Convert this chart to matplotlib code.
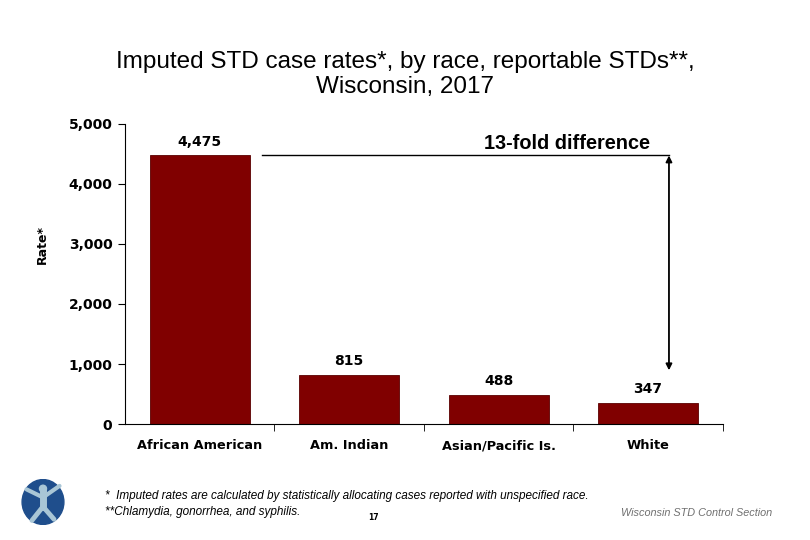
import matplotlib.pyplot as plt
from matplotlib.patches import Ellipse

races = ["African American", "Am. Indian", "Asian/Pacific Is.", "White"]
rates = [4475, 815, 488, 347]
rate_labels = ["4,475", "815", "488", "347"]
y_ticks = [0, 1000, 2000, 3000, 4000, 5000]
y_tick_labels = ["0", "1,000", "2,000", "3,000", "4,000", "5,000"]

bar_color = "#800000"

fig = plt.figure(figsize=(8.1, 5.4), dpi=100)
ax = fig.add_axes([0.1543, 0.2148, 0.738, 0.5556])

x = range(len(races))
ax.bar(x, rates, width=0.67, color=bar_color, edgecolor="#5a0000", linewidth=0.6)

ax.set_xlim(-0.5, 3.5)
ax.set_ylim(0, 5000)
ax.set_yticks(y_ticks)
ax.set_yticklabels(y_tick_labels, fontsize=10, fontweight="bold", family="DejaVu Sans")
ax.set_xticks(list(x))
ax.set_xticklabels(races, fontsize=9.3, fontweight="bold", family="DejaVu Sans")
ax.tick_params(axis="x", length=0, pad=11)
ax.set_xticks([0.5, 1.5, 2.5, 3.5], minor=True)
ax.tick_params(axis="x", which="minor", length=5, direction="out")
ax.tick_params(axis="y", length=5, direction="out", pad=4)
for s in ["top", "right"]:
    ax.spines[s].set_visible(False)

fig.text(42 / 810, 1 - 244 / 540, "Rate*", rotation=90, ha="center", va="center",
         fontsize=9, fontweight="bold", family="DejaVu Sans")

# value labels
for i, (v, lab) in enumerate(zip(rates, rate_labels)):
    ax.annotate(lab, (i, v), xytext=(0, 10), textcoords="offset points",
                ha="center", va="center", fontsize=10, fontweight="bold",
                family="DejaVu Sans")

# 13-fold difference annotation
ax.plot([0.416, 3.14], [rates[0], rates[0]], color="black", lw=1)
ax.annotate("", xy=(3.14, rates[0] * 0.2), xytext=(3.14, rates[0]),
            arrowprops=dict(arrowstyle="<|-|>", color="black", lw=1.3,
                            mutation_scale=9, shrinkA=0, shrinkB=0))
ax.text(2.46, 4680, "13-fold difference", ha="center", va="center",
        fontsize=14.3, fontweight="bold", family="Liberation Sans")

fig.text(0.5, 1 - 74.5 / 540, "Imputed STD case rates*, by race, reportable STDs**,\nWisconsin, 2017",
         ha="center", va="center", fontsize=17.5, family="Liberation Sans",
         linespacing=1.18)

# footer
fig.text(105 / 810, 1 - 496 / 540,
         "*  Imputed rates are calculated by statistically allocating cases reported with unspecified race.",
         ha="left", va="center", fontsize=8.5, style="italic", family="Liberation Sans")
fig.text(105 / 810, 1 - 512 / 540, "**Chlamydia, gonorrhea, and syphilis.",
         ha="left", va="center", fontsize=8.5, style="italic", family="Liberation Sans")
fig.text(373 / 810, 1 - 518 / 540, "17", ha="center", va="center", fontsize=5.5,
         fontweight="bold", family="DejaVu Sans")
fig.text(772 / 810, 1 - 513 / 540, "Wisconsin STD Control Section", ha="right",
         va="center", fontsize=7.8, style="italic", color="#707070",
         family="Liberation Sans")

# logo
lax = fig.add_axes([21 / 810, 1 - 525 / 540, 44 / 810, 46 / 540])
lax.set_xlim(-1, 1)
lax.set_ylim(-1, 1)
lax.axis("off")
lax.add_patch(Ellipse((0, 0), 1.9, 1.95, color="#1f4e8c"))
figc = "#a9c6d6"
lax.add_patch(Ellipse((0, 0.58), 0.32, 0.3, color=figc))
lax.plot([-0.75, 0, 0.75], [0.55, 0.2, 0.7], color=figc, lw=3, solid_capstyle="round")
lax.plot([0, 0], [0.45, -0.2], color=figc, lw=5)
lax.plot([-0.5, 0, 0.5], [-0.8, -0.2, -0.75], color=figc, lw=3.5, solid_capstyle="round")

fig.savefig("out.png", dpi=100)
